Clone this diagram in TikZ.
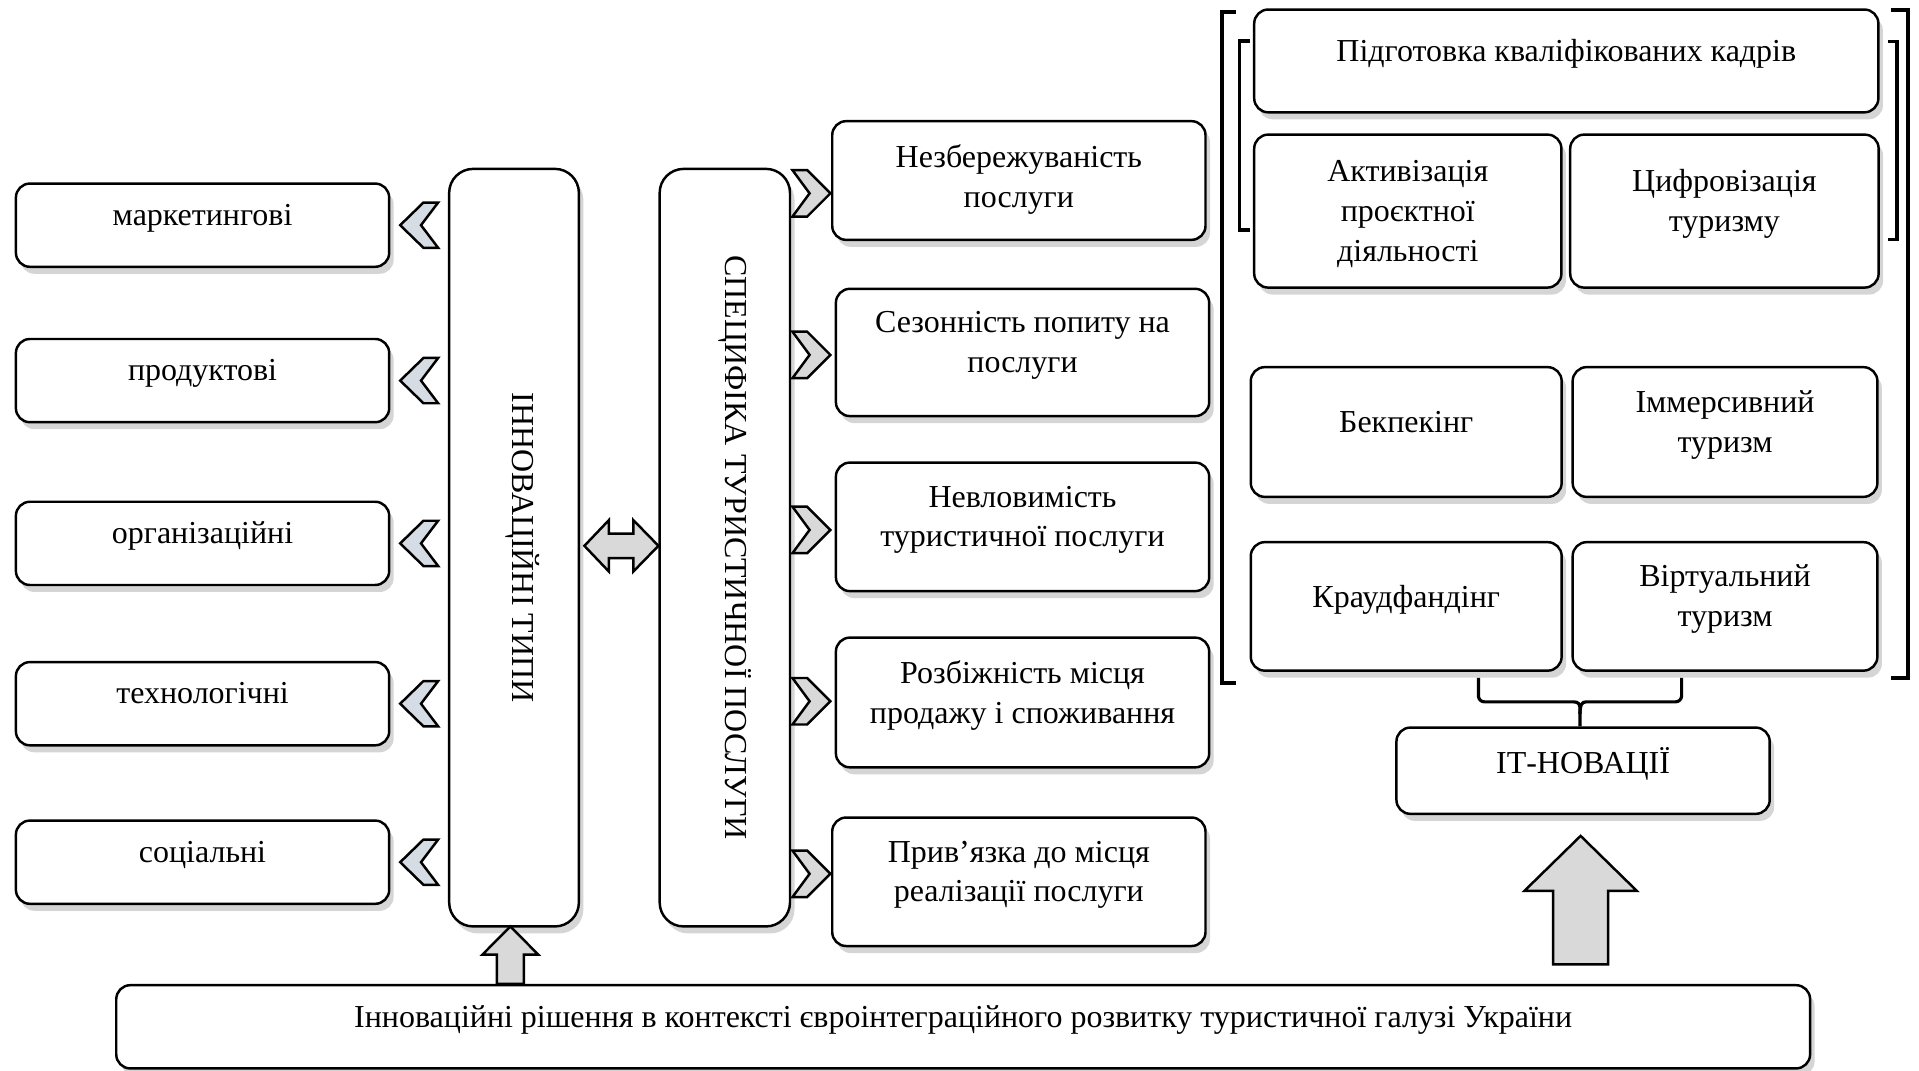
\documentclass[tikz,border=0pt]{standalone}
\usepackage{fontspec}
\setmainfont{Liberation Serif}
\usepackage{graphicx}
\usepackage{tikz}
\usetikzlibrary{shapes,arrows.meta,shadows,calc,positioning}
\newlength{\pxu}
\setlength{\pxu}{0.12239mm}
\definecolor{chevblue}{HTML}{D6DCE4}
\definecolor{arrgray}{HTML}{D9D9D9}
\tikzstyle{brk} = [draw, line width=1.2pt]

\begin{document}
\begin{tikzpicture}[x=\pxu, y=-\pxu, font=\fontsize{9.1}{11.3}\selectfont,
    box/.style={draw, fill=white, rounded corners=1.4mm, line width=0.7pt, align=center, inner sep=0pt, text depth=2.1mm,
      drop shadow={shadow xshift=0.45mm, shadow yshift=-0.7mm, opacity=0.33}},
    tall/.style={box, rounded corners=2.4mm, text depth=0pt},
    fig/.style={draw, line width=0.7pt, fill=arrgray},
    brc/.style={draw, line width=0.9pt}]

    \tikzset{chevl/.pic={\draw[fig, fill=chevblue] (-15.5,0) -- (3.5,-18.5) -- (15.5,-18.5) -- (1.5,0) -- (15.5,18.5) -- (3.5,18.5) -- cycle;},
      chevr/.pic={\draw[fig] (15.5,0) -- (-3.5,-19) -- (-15.5,-19) -- (-1.5,0) -- (-15.5,19) -- (-3.5,19) -- cycle;}}

    \useasboundingbox (0,0) rectangle (1568,875);

    \node[tall, minimum width=106\pxu, minimum height=619\pxu] (types) at (420,447.5) {};
    \node[rotate=-90] (typestxt) at ($(types.center)+(7,0)$) {ІННОВАЦІЙНІ ТИПИ};
    \node[tall, minimum width=106.5\pxu, minimum height=619\pxu] (spec) at (592.25,447.5) {};
    \node[rotate=-90] (spectxt) at ($(spec.center)+(8,0)$) {СПЕЦИФІКА ТУРИСТИЧНОЇ ПОСЛУГИ};

    \foreach \n/\y/\t in {mark/184/маркетингові, prod/311/продуктові, org/444/організаційні, tech/575/технологічні, soc/704.5/соціальні}
      \node[box, minimum width=305\pxu, minimum height=68\pxu] (\n) at (165.5,\y) {\t};
    \foreach \n in {mark,prod,org,tech,soc}
      \pic at ($(\n.east)!.5!(\n.east -| types.west)$) {chevl};

    \node[box, minimum width=305\pxu, minimum height=97\pxu, text depth=0.9mm] (nezb) at (832.5,147.5) {Незбережуваність\\послуги};
    \node[box, minimum width=305\pxu, minimum height=104\pxu] (sez) at (835.5,288) {Сезонність попиту на\\послуги};
    \node[box, minimum width=305\pxu, minimum height=105\pxu] (nevl) at (835.5,430.5) {Невловимість\\туристичної послуги};
    \node[box, minimum width=305\pxu, minimum height=106\pxu] (rozb) at (835.5,574) {Розбіжність місця\\продажу і споживання};
    \node[box, minimum width=305\pxu, minimum height=105\pxu] (pryv) at (832.5,720.5) {Прив’язка до місця\\реалізації послуги};
    \foreach \y in {158,290,433,573,714}
      \pic at (663,\y) {chevr};

    \coordinate (dm) at ($(types.east)!.5!(spec.west)$);
    \draw[fig, shift={(dm)}] (-28.5,-1.5) -- (-8.5,-22.5) -- (-8.5,-11.5) -- (11.5,-11.5) -- (11.5,-22.5) -- (32,-1.5)
      -- (11.5,19.5) -- (11.5,8.5) -- (-8.5,8.5) -- (-8.5,19.5) -- cycle;

    \node[box, minimum width=510\pxu, minimum height=84\pxu] (pidg) at (1279.8,49.8) {Підготовка кваліфікованих кадрів};
    \node[box, minimum width=251\pxu, minimum height=125\pxu, text depth=0pt] (aktyv) at (1150.3,172.5) {Активізація\\проєктної\\діяльності};
    \node[box, minimum width=252\pxu, minimum height=125\pxu] (tsyfr) at (1409,172.5) {Цифровізація\\туризму};
    \node[box, minimum width=254\pxu, minimum height=106\pxu] (bekp) at (1149,353) {Бекпекінг};
    \node[box, minimum width=249\pxu, minimum height=106\pxu] (immers) at (1409.5,353) {Іммерсивний\\туризм};
    \node[box, minimum width=254\pxu, minimum height=105\pxu] (kraud) at (1149,495.5) {Краудфандінг};
    \node[box, minimum width=249\pxu, minimum height=105\pxu] (virt) at (1409.5,495.5) {Віртуальний\\туризм};
    \node[box, minimum width=305\pxu, minimum height=70.5\pxu] (it) at (1293.5,629.75) {ІТ-НОВАЦІЇ};

    \draw[brk] (1010,9.5) -- (998.5,9.5) -- (998.5,558) -- (1010,558);
    \draw[brk] (1545,8) -- (1559,8) -- (1559,554) -- (1545,554);
    \draw[brc] (1021.5,33.5) -- (1013,33.5) -- (1013,188) -- (1021.5,188);
    \draw[brc] (1543,34) -- (1550,34) -- (1550,196) -- (1543,196);

    \draw[brc, shift={(it.north)}, rounded corners=0.6mm] (-85.5,-39.5) -- (-85.5,-20) -- (-12.5,-20)
      .. controls (-4,-20) and (-2.5,-18) .. (-2.5,-10) -- (-2.5,0);
    \draw[brc, shift={(it.north)}, rounded corners=0.6mm] (80.5,-39.5) -- (80.5,-20) -- (7.5,-20)
      .. controls (-1,-20) and (-2.5,-18) .. (-2.5,-10);

    \draw[fig, shift={(it.south)}] (-2,17) -- (44,62) -- (20.5,62) -- (20.5,122) -- (-24.5,122) -- (-24.5,62) -- (-48,62) -- cycle;

    \node[box, minimum width=1384\pxu, minimum height=68\pxu] (base) at (787,839) {Інноваційні рішення в контексті євроінтеграційного розвитку туристичної галузі України};

    \coordinate (sa) at (types.south |- base.north);
    \draw[fig, shift={(sa)}] (-3,-47) -- (19.8,-24) -- (8,-24) -- (8,0) -- (-14,0) -- (-14,-24) -- (-25.8,-24) -- cycle;

\end{tikzpicture}
\end{document}
